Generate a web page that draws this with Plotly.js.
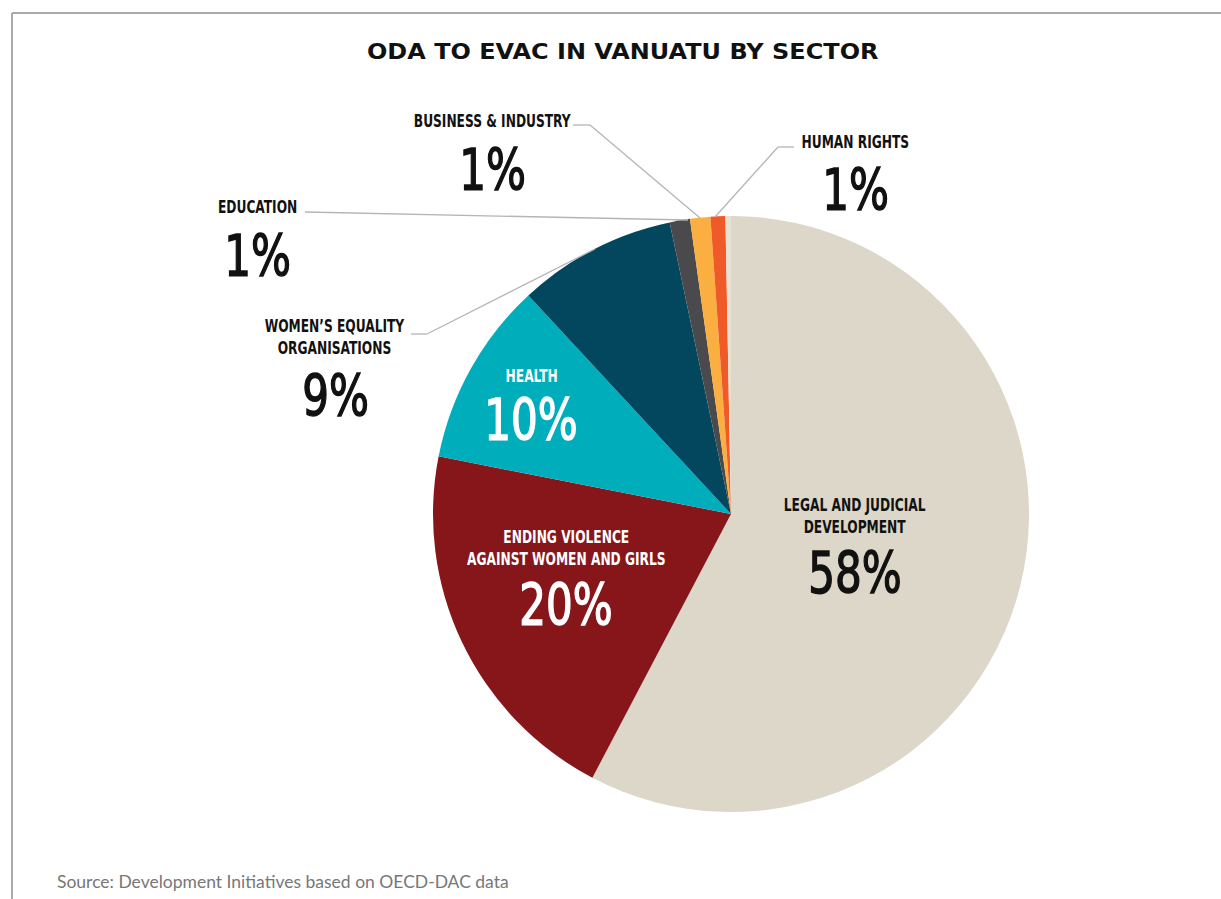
<!DOCTYPE html>
<html>
<head>
<meta charset="utf-8">
<script src="https://cdn.plot.ly/plotly-3.0.1.min.js"></script>
<style>
html,body{margin:0;padding:0;background:#fff;}
#chart{width:1221px;height:899px;}
</style>
</head>
<body>
<div id="chart"></div>
<script>
// ---- data ----
const sectors = ["Legal and judicial development", "Ending violence against women and girls", "Health", "Women's equality organisations", "Education", "Business & industry", "Human rights", "Other"];
const sectorLabels = ["LEGAL AND JUDICIAL<br>DEVELOPMENT", "ENDING VIOLENCE<br>AGAINST WOMEN AND GIRLS", "HEALTH", "WOMEN’S EQUALITY<br>ORGANISATIONS", "EDUCATION", "BUSINESS & INDUSTRY", "HUMAN RIGHTS", ""];
const shares = [57.7, 20.4, 10.0, 8.6, 1.1, 1.1, 0.8, 0.3];
const colors = ["#dcd7c8", "#86161a", "#00adbb", "#03475f", "#4a4a4c", "#fbaf41", "#f05a28", "#e6e1d3"];

// ---- layout helpers ----
const W = 1221, H = 899;
const px = x => x / W;
const py = y => 1 - y / H;
const cx = 731, cy = 514, R = 298;

// label placement (pixel centers)
const labelPos = [
  {x: 855, ny: 516, py: 573, col: "#111"},
  {x: 566, ny: 548, py: 605, col: "#fff"},
  {x: 531, ny: 376, py: 420, col: "#fff"},
  {x: 335, ny: 337, py: 396, col: "#111"},
  {x: 257, ny: 207, py: 256, col: "#111"},
  {x: 492, ny: 121, py: 170, col: "#111"},
  {x: 855, ny: 142, py: 190, col: "#111"}
];

const nameFont = "DejaVu Sans Condensed, DejaVu Sans, sans-serif";
const annotations = [];
labelPos.forEach((p, i) => {
  annotations.push({
    xref: "paper", yref: "paper", x: px(p.x), y: py(p.ny),
    xanchor: "center", yanchor: "middle", showarrow: false,
    text: "<b>" + sectorLabels[i] + "</b>",
    font: {family: nameFont, size: 17, color: p.col}
  });
  annotations.push({
    xref: "paper", yref: "paper", x: px(p.x), y: py(p.py),
    xanchor: "center", yanchor: "middle", showarrow: false,
    text: Math.round(shares[i]) + "%",
    font: {family: nameFont, size: 57, color: p.col}
  });
});
annotations.push({
  xref: "paper", yref: "paper", x: px(623), y: py(52),
  xanchor: "center", yanchor: "middle", showarrow: false,
  text: "<b>ODA TO EVAC IN VANUATU BY SECTOR</b>",
  font: {family: "DejaVu Sans, sans-serif", size: 22, color: "#111"}
});
annotations.push({
  xref: "paper", yref: "paper", x: px(55), y: py(881),
  xanchor: "left", yanchor: "middle", showarrow: false,
  text: "Source: Development Initiatives based on OECD-DAC data",
  font: {family: "Lato, sans-serif", size: 17.5, color: "#777"}
});

const lineStyle = {color: "#b5b5b5", width: 1.3};
function seg(x0, y0, x1, y1, st) {
  return {type: "line", xref: "paper", yref: "paper",
    x0: px(x0), y0: py(y0), x1: px(x1), y1: py(y1), line: st};
}
const shapes = [
  seg(12, 13, 1221, 13, {color: "#aaaaaa", width: 2}),
  seg(12, 13, 12, 899, {color: "#aaaaaa", width: 2}),
  seg(305, 212, 688, 220, lineStyle),
  seg(573, 125, 590, 125, lineStyle), seg(590, 125, 700, 218, lineStyle),
  seg(794, 147, 778, 147, lineStyle), seg(778, 147, 715, 217, lineStyle),
  seg(411, 334, 427, 334, lineStyle), seg(427, 334, 595, 249, lineStyle)
];

const trace = {
  type: "pie",
  labels: sectors,
  values: shares,
  sort: false,
  direction: "clockwise",
  rotation: 0,
  marker: {colors: colors, line: {width: 0}},
  textinfo: "none",
  hoverinfo: "label+percent",
  showlegend: false,
  domain: {x: [px(cx - R), px(cx + R)], y: [py(cy + R), py(cy - R)]}
};

const layout = {
  width: W, height: H,
  margin: {l: 0, r: 0, t: 0, b: 0},
  paper_bgcolor: "#fff",
  showlegend: false,
  annotations: annotations,
  shapes: shapes
};

Plotly.newPlot("chart", [trace], layout, {displayModeBar: false, staticPlot: true}).then(() => {
  const nLab = labelPos.length * 2;
  document.querySelectorAll("#chart g.annotation").forEach(g => {
    const idx = +g.getAttribute("data-index");
    const t = g.querySelector("text.annotation-text");
    if (!t) return;
    t.style.transformBox = "fill-box";
    t.style.transformOrigin = "center";
    if (idx < nLab) {
      if (idx % 2 === 0) {
        t.style.transform = "scaleX(0.8)";
      } else {
        t.style.transform = "scaleX(0.82)";
        const c = labelPos[(idx - 1) / 2].col;
        t.style.stroke = c;
        t.style.strokeWidth = "1.4px";
      }
    } else if (idx === nLab) {
      t.style.transform = "scaleX(1.09)";
    }
  });
});
</script>
</body>
</html>
